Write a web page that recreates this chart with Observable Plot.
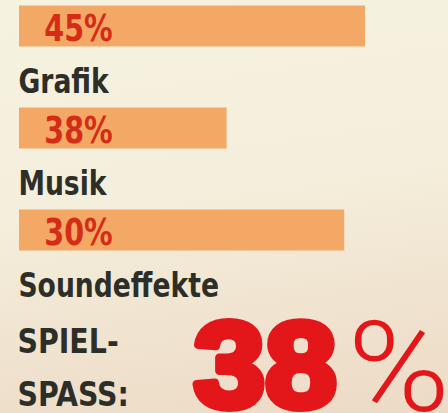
<!DOCTYPE html>
<html>
<head>
<meta charset="utf-8">
<script src="https://cdn.jsdelivr.net/npm/d3@7"></script>
<script src="https://cdn.jsdelivr.net/npm/@observablehq/plot@0.6"></script>
<style>
  html, body { margin: 0; padding: 0; }
  body {
    width: 448px; height: 413px; overflow: hidden;
    background: linear-gradient(172deg, #f5f2df 0%, #f4efdc 45%, #f0e3cf 75%, #ecdac6 100%);
  }
  #chart svg { display: block; background: transparent; }
  #chart g.cond text { font-stretch: condensed; }
</style>
</head>
<body>
<div id="chart"></div>
<script>
// Data
const categories = ["Grafik", "Musik", "Soundeffekte"];
const scores = [45, 38, 30];                 // printed percentages
const barLengths = [100, 60, 94];            // drawn bar length (relative, 0–100), as seen in the picture
const overallLabel = "SPIEL-\nSPASS:";
const overallScore = [38];

const rows = categories.map((c, i) => ({category: c, score: scores[i], bar: barLengths[i]}));

const condensed = "'DejaVu Sans Condensed', 'DejaVu Sans', sans-serif";

const chart = Plot.plot({
  width: 448,
  height: 413,
  margin: 0,
  style: {background: "transparent"},
  x: {domain: [0, 100], range: [19, 365], axis: null},
  y: {domain: categories, range: [-25.5, 280.5], padding: 0, axis: null},
  marks: [
    Plot.barX(rows, {x: "bar", y: "category", fill: "#f4a865", insetTop: 30.5, insetBottom: 30.5}),
    Plot.text(rows, {
      x: 0, y: "category", text: d => `${d.score}%`,
      textAnchor: "start", dx: 25, dy: 3,
      fill: "#d42c17", fontSize: 37, fontWeight: "bold", fontFamily: condensed, className: "cond pct"
    }),
    Plot.text(rows, {
      x: 0, y: "category", text: "category",
      textAnchor: "start", dx: -1, dy: 56,
      fill: "#2d2e27", fontSize: 34, fontWeight: "bold", fontFamily: condensed, className: "cond lab"
    }),
    Plot.text([overallLabel], {
      frameAnchor: "bottom-left", text: d => d,
      textAnchor: "start", lineAnchor: "bottom", lineHeight: 1.55,
      dx: 17, dy: -8,
      fill: "#2d2e27", fontSize: 34, fontWeight: "bold", fontFamily: condensed, className: "cond spiel"
    }),
    Plot.text(overallScore, {
      frameAnchor: "bottom-left", text: d => `${d}`,
      textAnchor: "end", lineAnchor: "bottom",
      dx: 336, dy: -7,
      fill: "#e3161a", stroke: "#e3161a", strokeWidth: 8, strokeLinejoin: "round",
      fontSize: 121, fontWeight: "bold", fontFamily: "'Liberation Sans', Arial, sans-serif", className: "big"
    }),
    Plot.text(overallScore, {
      frameAnchor: "bottom-left", text: d => "%",
      textAnchor: "start", lineAnchor: "bottom",
      dx: 347, dy: -3,
      fill: "#e3161a",
      fontSize: 126, fontWeight: 300, fontFamily: "Roboto, 'Open Sans', sans-serif", className: "pctsign"
    })
  ]
});

// horizontal width adjustment of text groups (style only)
function squeeze(cls, sx, ox) {
  chart.querySelectorAll(`g.${cls}`).forEach(g => {
    const w = document.createElementNS("http://www.w3.org/2000/svg", "g");
    g.parentNode.insertBefore(w, g);
    w.appendChild(g);
    w.setAttribute("transform", `translate(${ox},0) scale(${sx},1) translate(${-ox},0)`);
  });
}
squeeze("pct", 0.86, 43);
squeeze("lab", 0.87, 18);
squeeze("spiel", 0.93, 17);
squeeze("big", 1.06, 336);
squeeze("pctsign", 1.1, 347);

document.getElementById("chart").appendChild(chart);
</script>
</body>
</html>
